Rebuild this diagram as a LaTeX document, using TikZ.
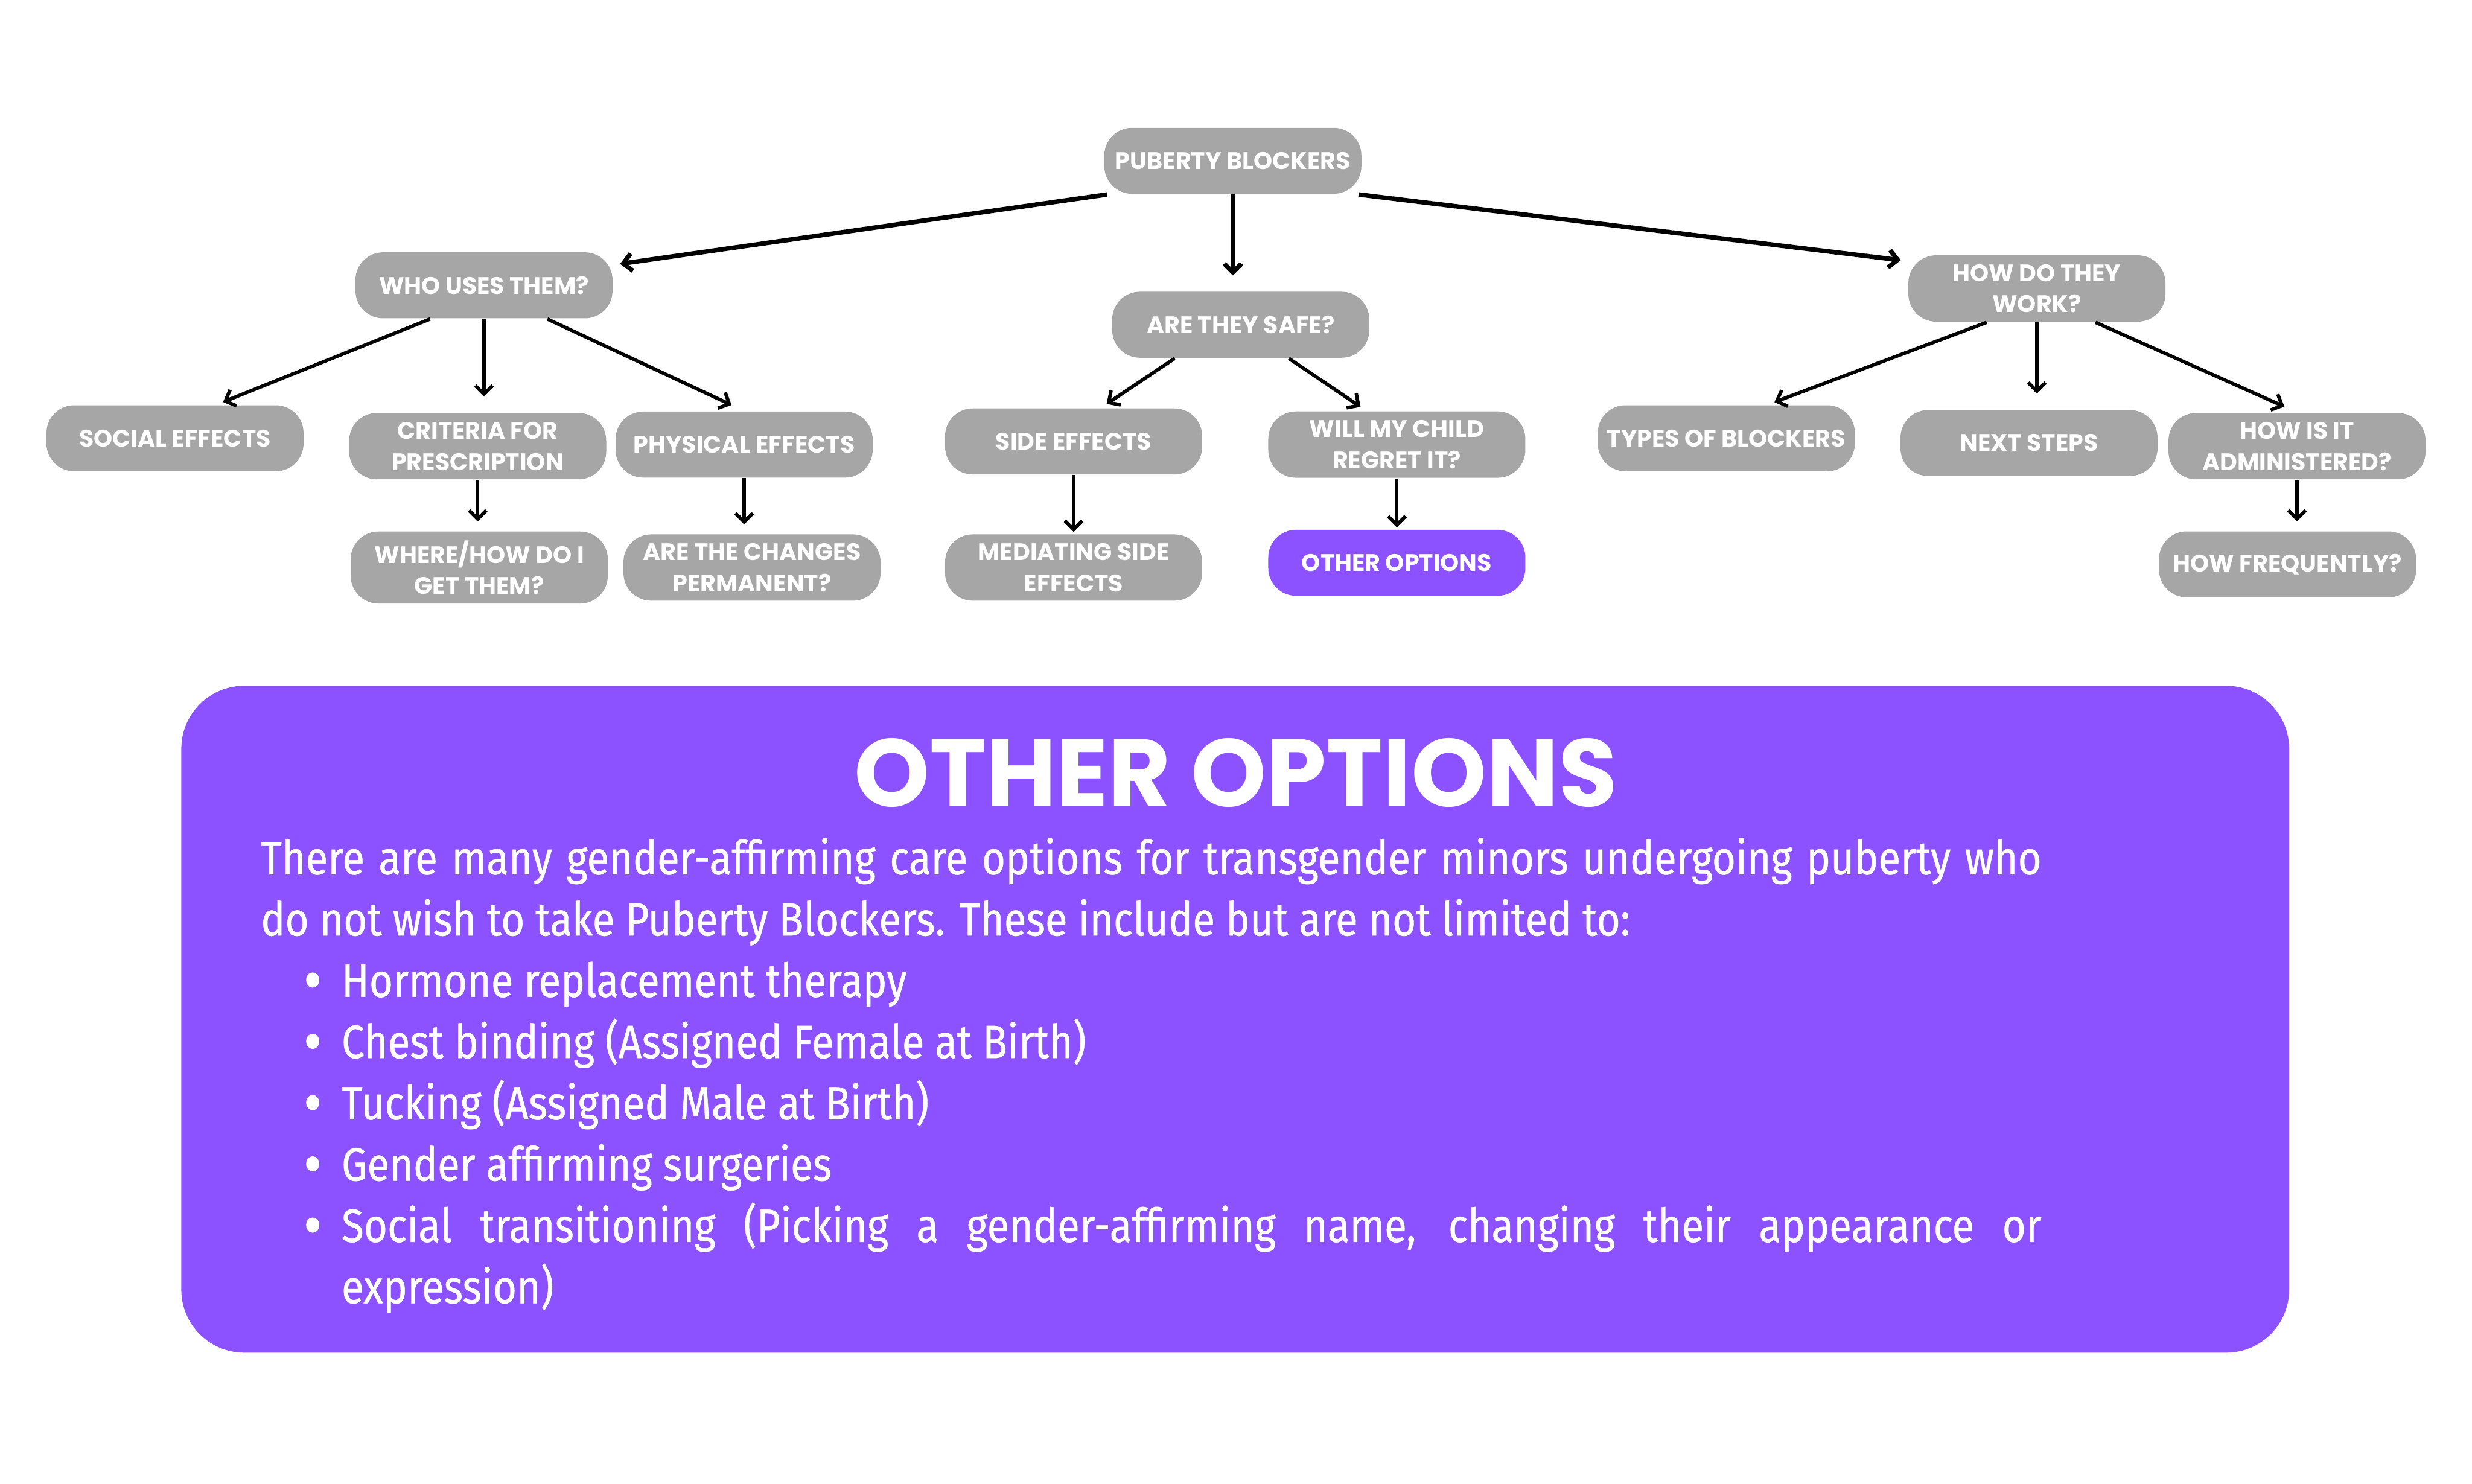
\documentclass[tikz,border=0pt]{standalone}
\usepackage{fontspec}
\usepackage{graphicx}
\usepackage{enumitem}
\usepackage{tikz}
\usetikzlibrary{arrows.meta}
\newfontfamily\headfont{Poppins}
\newfontfamily\bodyfont[FakeStretch=0.87,FakeBold=0.6]{Fira Sans}
\definecolor{boxgray}{HTML}{A6A6A6}
\definecolor{optpurple}{HTML}{8C52FF}

\begin{document}
\begin{tikzpicture}[x=0.016cm, y=-0.016cm,
  topic/.style={fill=boxgray, text=white, rounded corners=8pt,
    minimum width=2.61cm, minimum height=0.67cm, inner sep=2.6pt,
    align=center, font=\headfont\bfseries\fontsize{6.9}{9}\selectfont},
  picked/.style={topic, fill=optpurple},
  link/.style={line width=1pt, -{Straight Barb[length=2.5pt,width=5pt]}, shorten >=2pt},
  toplink/.style={link, line width=1.3pt}]

\useasboundingbox (0,0) rectangle (1568,941);

% tree
\node[topic] (pb) at (782,102) {PUBERTY BLOCKERS};
\node[topic] (who) at (307,181) {WHO USES THEM?};
\node[topic] (safe) at (787,206) {ARE THEY SAFE?};
\node[topic] (how) at (1292,183) {HOW DO THEY\\WORK?};

\node[topic] (social) at (111,278) {SOCIAL EFFECTS};
\node[topic] (crit) at (303,283) {CRITERIA FOR\\PRESCRIPTION};
\node[topic] (phys) at (472,282) {PHYSICAL EFFECTS};
\node[topic] (side) at (681,280) {SIDE EFFECTS};
\node[topic] (regret) at (886,282) {WILL MY CHILD\\REGRET IT?};
\node[topic] (types) at (1095,278) {TYPES OF BLOCKERS};
\node[topic] (next) at (1287,281) {NEXT STEPS};
\node[topic] (admin) at (1457,283) {HOW IS IT\\ADMINISTERED?};

\node[topic] (where) at (304,360) {WHERE/HOW DO I\\GET THEM?};
\node[topic] (perm) at (477,360) {ARE THE CHANGES\\PERMANENT?};
\node[topic] (med) at (681,360) {MEDIATING SIDE\\EFFECTS};
\node[picked] (other) at (886,357) {OTHER OPTIONS};
\node[topic] (freq) at (1451,358) {HOW FREQUENTLY?};

\draw[toplink] (pb.195) -- (who.9);
\draw[toplink, shorten >=4.5pt] (pb.south) -- (pb.south |- safe.north);
\draw[toplink] (pb.345) -- (how.168);

\draw[link] (who.212) -- (social.39);
\draw[link, shorten >=4.5pt] (who.south) -- (who.south |- crit.north);
\draw[link, shorten >=4pt] (who.332) -- (phys.north);
\draw[link, shorten >=2.7pt] (crit.south) -- (crit.south |- where.north);
\draw[link, shorten >=2.7pt] (phys.south) -- (phys.south |- perm.north);

\draw[link] (safe.207) -- (side.51);
\draw[link] (safe.325) -- (regret.132);
\draw[link, shorten >=0.5pt] (side.south) -- (med.north);
\draw[link, shorten >=0.5pt] (regret.south) -- (other.north);

\draw[link] (how.214) -- (types.39);
\draw[link, shorten >=4.5pt] (how.south) -- (how.south |- next.north);
\draw[link, shorten >=4pt] (how.330) -- (admin.north);
\draw[link, shorten >=2.7pt] (admin.south) -- (admin.south |- freq.north);

% other options panel
\fill[optpurple, rounded corners=0.64cm] (115,435) rectangle (1452,858);
\node[text=white, font=\headfont\bfseries\fontsize{27.7}{30}\selectfont] (title) at (784,490) {OTHER OPTIONS};
\node[anchor=north west, text width=18.08cm, text=white, inner sep=0pt, align=justify,
  font=\bodyfont\fontsize{13.5}{17.7}\selectfont] (body) at (165,531)
  {There are many gender-affirming care options for transgender minors undergoing puberty who\linebreak
   do not wish to take Puberty Blockers. These include but are not limited to:
   \begin{itemize}[label={\raisebox{-0.12em}{\scalebox{1.4}{\textbullet}}}, leftmargin=0.82cm, labelsep=0.2cm,
     topsep=0pt, partopsep=0pt, itemsep=0pt, parsep=0pt]
   \item Hormone replacement therapy
   \item Chest binding (Assigned Female at Birth)
   \item Tucking (Assigned Male at Birth)
   \item Gender affirming surgeries
   \item Social transitioning (Picking a gender-affirming name, changing their appearance or\linebreak
     expression)
   \end{itemize}};

\end{tikzpicture}
\end{document}
